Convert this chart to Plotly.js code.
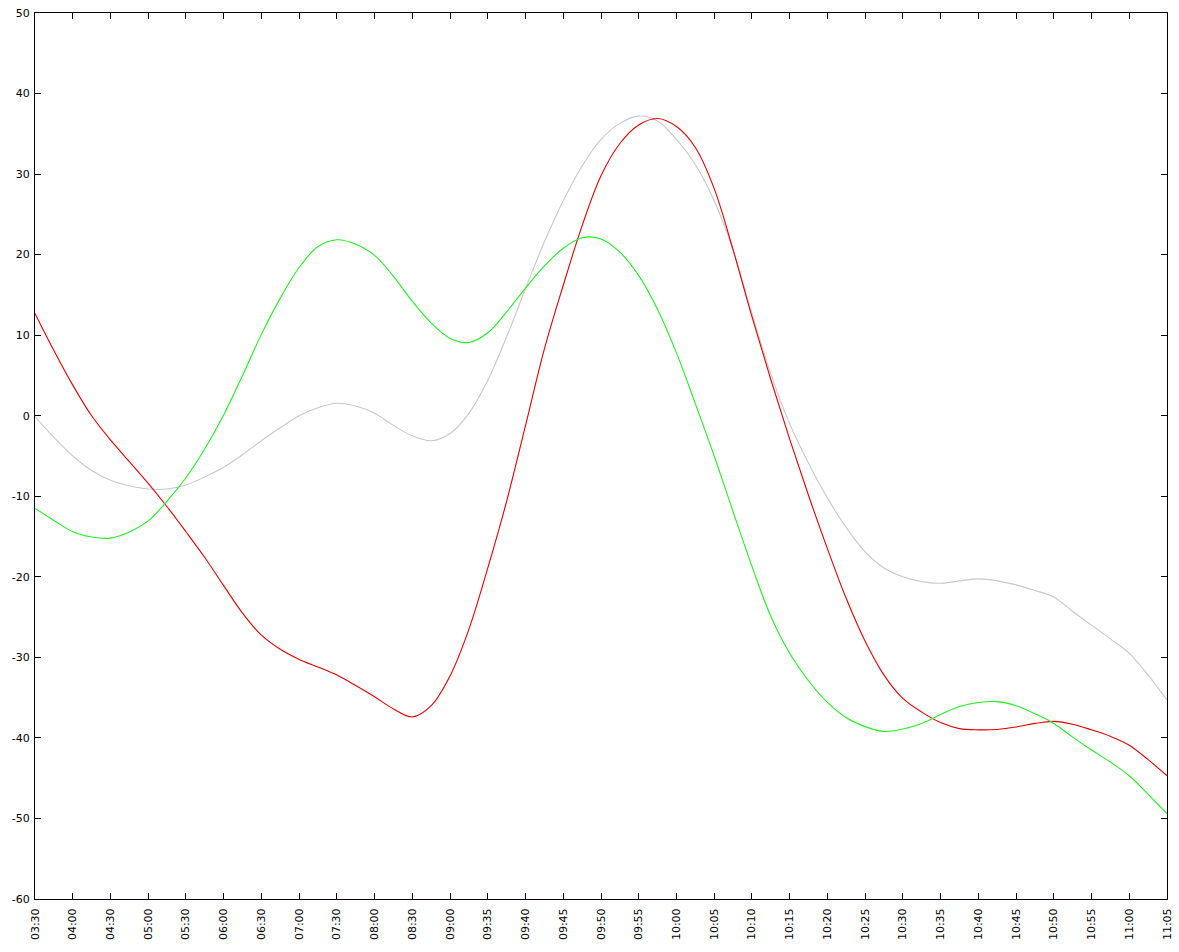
<!DOCTYPE html>
<html>
<head>
<meta charset="utf-8">
<script src="https://cdn.plot.ly/plotly-3.0.1.min.js"></script>
<style>html,body{margin:0;padding:0;background:#fff;}#chart{width:1179px;height:952px;}</style>
</head>
<body>
<div id="chart"></div>
<script>
// Category tick labels (equally spaced)
var categories = ["03:30","04:00","04:30","05:00","05:30","06:00","06:30","07:00","07:30","08:00","08:30","09:00","09:35","09:40","09:45","09:50","09:55","10:00","10:05","10:10","10:15","10:20","10:25","10:30","10:35","10:40","10:45","10:50","10:55","11:00","11:05"];

// Y tick values and labels
var yTickValues = [-60,-50,-40,-30,-20,-10,0,10,20,30,40,50];
var yTickLabels = ["-60","-50","-40","-30","-20","-10","0","10","20","30","40","50"];

// Values read at every half category step (61 samples per series)
var redValues = [12.7,8.1,3.8,0.0,-3.0,-5.7,-8.4,-11.3,-14.4,-17.6,-21.1,-24.5,-27.25,-29.0,-30.25,-31.2,-32.2,-33.5,-34.9,-36.4,-37.4,-36.0,-32.3,-26.5,-18.9,-10.6,-1.2,8.3,16.2,23.6,29.8,33.8,36.1,36.9,35.9,33.3,28.2,20.6,12.3,4.5,-2.9,-9.9,-16.5,-22.7,-28.0,-32.2,-35.1,-36.8,-38.1,-38.85,-39.0,-38.95,-38.65,-38.2,-37.95,-38.3,-39.0,-39.8,-40.9,-42.7,-44.7];
var greenValues = [-11.5,-13.0,-14.4,-15.05,-15.2,-14.45,-13.05,-10.6,-7.7,-4.1,0.1,5.0,10.1,14.6,18.4,21.0,21.85,21.3,19.9,17.3,14.2,11.5,9.6,9.1,10.3,12.9,15.85,18.6,20.8,22.1,21.95,20.3,17.4,13.2,7.8,1.5,-5.0,-11.9,-18.7,-24.9,-29.5,-32.9,-35.6,-37.5,-38.6,-39.2,-38.9,-38.2,-37.1,-36.1,-35.6,-35.5,-36.0,-37.0,-38.2,-39.9,-41.5,-43.0,-44.7,-47.0,-49.4];
var grayValues = [-0.1,-2.7,-5.0,-6.8,-8.0,-8.7,-9.1,-9.1,-8.6,-7.6,-6.4,-4.85,-3.1,-1.5,0.0,1.0,1.55,1.2,0.3,-1.2,-2.5,-3.1,-2.2,0.3,4.4,9.8,15.8,21.6,26.7,31.0,34.3,36.3,37.2,36.6,34.3,31.2,26.7,20.6,12.7,5.2,-1.0,-5.9,-10.2,-13.9,-16.9,-18.9,-20.0,-20.6,-20.8,-20.5,-20.25,-20.5,-21.0,-21.7,-22.5,-24.3,-26.0,-27.7,-29.5,-32.2,-35.3];

var samplesPerCategory = 2;
var xs = [];
for (var k = 0; k < redValues.length; k++) { xs.push(k / samplesPerCategory); }
var tickPos = categories.map(function (c, i) { return i; });

function series(vals, color) {
  return {
    x: xs, y: vals, type: 'scatter', mode: 'lines',
    line: {color: color, width: 1.1, shape: 'spline', smoothing: 1},
    hoverinfo: 'skip', showlegend: false
  };
}

var data = [
  series(grayValues, '#c8c8c8'),
  series(redValues, '#e00000'),
  series(greenValues, '#22ee22')
];

var axisFont = {family: 'DejaVu Sans, Verdana, sans-serif', size: 11, color: '#000'};

var layout = {
  width: 1179, height: 952,
  margin: {l: 35, r: 12, t: 13, b: 53, pad: 0},
  paper_bgcolor: '#fff', plot_bgcolor: '#fff',
  font: axisFont,
  xaxis: {
    range: [0, 30], tickmode: 'array', tickvals: tickPos, ticktext: categories,
    tickangle: -90, ticks: 'inside', ticklen: 6, tickwidth: 1, tickcolor: '#000',
    ticklabelstandoff: 4,
    showline: true, linecolor: '#000', linewidth: 1, mirror: 'ticks',
    showgrid: false, zeroline: false, tickfont: axisFont, fixedrange: true
  },
  yaxis: {
    range: [-60, 50], tickmode: 'array', tickvals: yTickValues, ticktext: yTickLabels,
    ticks: 'inside', ticklen: 6, tickwidth: 1, tickcolor: '#000',
    ticklabelstandoff: 2,
    showline: true, linecolor: '#000', linewidth: 1, mirror: 'ticks',
    showgrid: false, zeroline: false, tickfont: axisFont, fixedrange: true
  }
};

Plotly.newPlot('chart', data, layout, {displayModeBar: false, staticPlot: true});
</script>
</body>
</html>
